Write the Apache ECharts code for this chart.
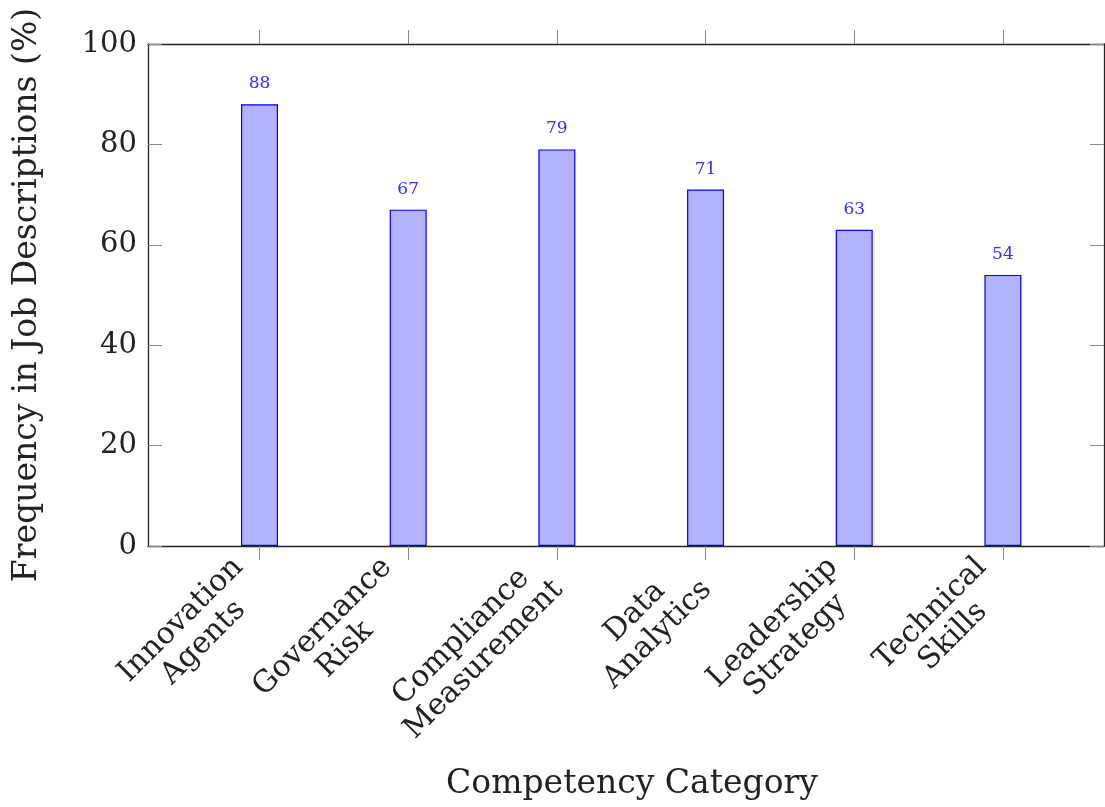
<!DOCTYPE html>
<html>
<head>
<meta charset="utf-8">
<script src="https://cdn.jsdelivr.net/npm/echarts@6/dist/echarts.min.js"></script>
<style>
  html, body { margin: 0; padding: 0; background: #fff; }
  #chart { width: 1105px; height: 807px; }
</style>
</head>
<body>
<div id="chart"></div>
<script>
// categories, two lines each
const categories = [
  ['Innovation', 'Agents'],
  ['Governance', 'Risk'],
  ['Compliance', 'Measurement'],
  ['Data', 'Analytics'],
  ['Leadership', 'Strategy'],
  ['Technical', 'Skills']
]
const frequency = [88, 67, 79, 71, 63, 54]
const yTicks = [0, 20, 40, 60, 80, 100]

const positions = categories.map((_, i) => i)
const font = 'DejaVu Serif'

const chart = echarts.init(document.getElementById('chart'))

const frameLine = { show: true, onZero: false, lineStyle: { color: '#222', width: 1.3 } }
const tickStyle = { color: '#888' }

chart.setOption({
  animation: false,
  grid: { left: 148, right: 1, top: 44, bottom: 261 },
  xAxis: [
    {
      type: 'value',
      position: 'bottom',
      min: -0.75,
      max: 5.68,
      splitLine: { show: false },
      axisLine: frameLine,
      axisTick: { show: true, customValues: positions, length: 14, inside: false, lineStyle: tickStyle },
      axisLabel: {
        customValues: positions,
        rotate: 45,
        margin: 18,
        padding: [0, 14, 0, 0],
        color: '#222',
        fontFamily: font,
        fontSize: 30,
        formatter: v => {
          const c = categories[Math.round(v)]
          return c ? '{c|' + c[0] + '}\n{c|' + c[1] + '}' : ''
        },
        rich: { c: { align: 'center', fontFamily: font, fontSize: 30, lineHeight: 32, color: '#222' } }
      },
      name: 'Competency Category',
      nameLocation: 'middle',
      nameGap: 222,
      nameTextStyle: { fontFamily: font, fontSize: 33, color: '#222', padding: [0, 0, 0, 12] }
    },
    {
      type: 'value',
      position: 'top',
      min: -0.75,
      max: 5.68,
      splitLine: { show: false },
      axisLine: frameLine,
      axisTick: { show: true, customValues: positions, length: 14, inside: false, lineStyle: tickStyle },
      axisLabel: { show: false }
    }
  ],
  yAxis: [
    {
      type: 'value',
      position: 'left',
      min: 0,
      max: 100,
      interval: 20,
      splitLine: { show: false },
      axisLine: frameLine,
      axisTick: { show: true, inside: true, length: 14, lineStyle: tickStyle },
      axisLabel: {
        margin: 11,
        color: '#222',
        fontFamily: font,
        fontSize: 29,
        formatter: v => yTicks.includes(v) ? String(v) : ''
      },
      name: 'Frequency in Job Descriptions (%)',
      nameLocation: 'middle',
      nameGap: 104,
      nameTextStyle: { fontFamily: font, fontSize: 33, color: '#222' }
    },
    {
      type: 'value',
      position: 'right',
      min: 0,
      max: 100,
      interval: 20,
      splitLine: { show: false },
      axisLine: frameLine,
      axisTick: { show: true, inside: true, length: 14, lineStyle: tickStyle },
      axisLabel: { show: false }
    }
  ],
  series: [{
    type: 'bar',
    xAxisIndex: 0,
    yAxisIndex: 0,
    barWidth: 37,
    data: frequency.map((v, i) => [positions[i], v]),
    itemStyle: { color: '#b2b2ff', borderColor: '#0000ff', borderWidth: 1.2 },
    label: {
      show: true,
      position: 'top',
      distance: 12,
      color: '#3030ff',
      fontFamily: font,
      fontSize: 17,
      formatter: p => p.value[1]
    }
  }]
})
</script>
</body>
</html>
